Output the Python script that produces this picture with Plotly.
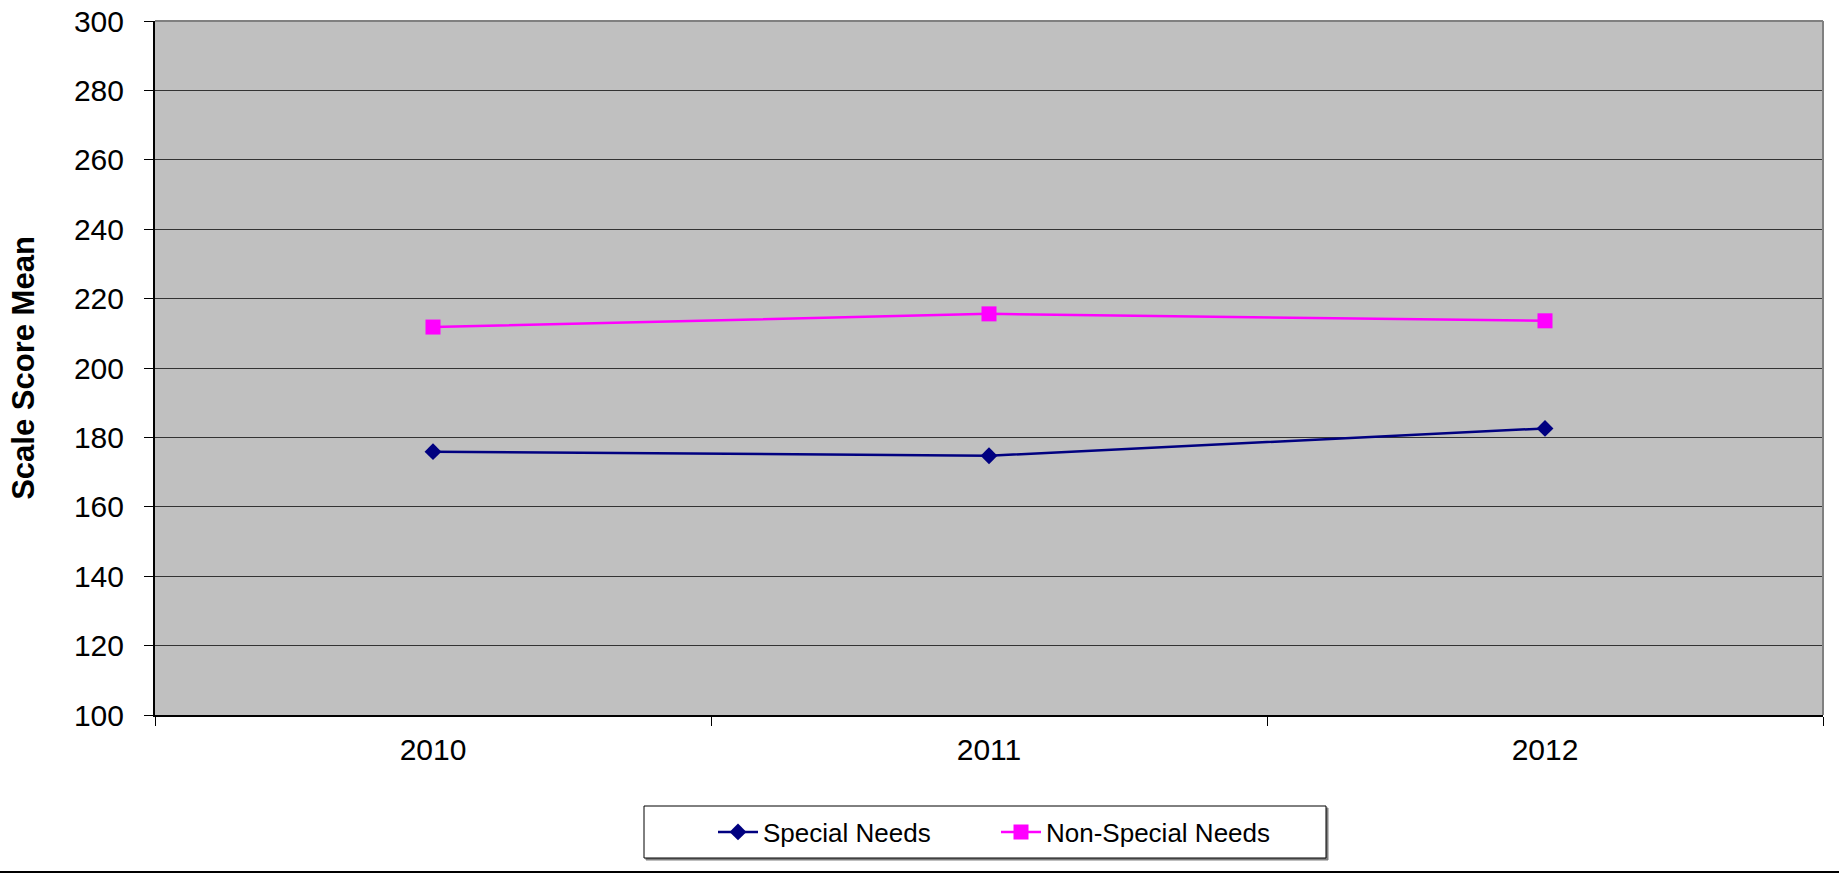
import plotly.graph_objects as go

years = ["2010", "2011", "2012"]
special_needs = [175.9, 174.7, 182.6]
non_special_needs = [211.8, 215.6, 213.6]
y_ticks = [100, 120, 140, 160, 180, 200, 220, 240, 260, 280, 300]

W, H = 1839, 873
L, R, T, B = 155, 16, 21, 158
pw, ph = W - L - R, H - T - B
y0px = T + ph  # pixel row of the x axis


def px_x(x):
    return (x - L) / pw


def px_y(y):
    return (y0px - y) / ph


fig = go.Figure()
fig.add_trace(go.Scatter(
    x=years, y=special_needs, name="Special Needs", mode="lines+markers",
    line=dict(color="#000080", width=2.5),
    marker=dict(symbol="diamond", size=13, color="#000080"),
))
fig.add_trace(go.Scatter(
    x=years, y=non_special_needs, name="Non-Special Needs", mode="lines+markers",
    line=dict(color="#FF00FF", width=2.5),
    marker=dict(symbol="square", size=15, color="#FF00FF"),
))

font_family = "Liberation Sans, Arial, sans-serif"

fig.update_layout(
    width=W, height=H,
    margin=dict(l=L, r=R, t=T, b=B, autoexpand=False),
    paper_bgcolor="white",
    plot_bgcolor="#C0C0C0",
    font=dict(family=font_family, color="black"),
    showlegend=True,
    legend=dict(
        orientation="h",
        xref="paper", yref="paper",
        x=px_x(713), xanchor="left",
        y=px_y(832), yanchor="middle",
        bgcolor="rgba(0,0,0,0)", borderwidth=0,
        font=dict(size=26, family=font_family),
        itemwidth=40,
        entrywidth=228,
    ),
    xaxis=dict(
        type="category",
        tickson="boundaries",
        ticks="outside", ticklen=9, tickcolor="black", tickwidth=1,
        showgrid=False,
        showline=True, linecolor="black", linewidth=2,
        tickfont=dict(size=30),
        ticklabelstandoff=7,
        range=[-0.5, 2.5],
        zeroline=False,
    ),
    yaxis=dict(
        range=[100, 300],
        tickvals=y_ticks,
        ticks="outside", ticklen=9, tickcolor="black", tickwidth=1,
        showgrid=True, gridcolor="#333333", gridwidth=1,
        showline=True, linecolor="black", linewidth=2,
        tickfont=dict(size=30),
        ticklabelstandoff=14,
        zeroline=False,
        title=dict(text="<b>Scale Score Mean</b>", font=dict(size=31), standoff=30),
    ),
    shapes=[
        # plot area border (top and right)
        dict(type="line", xref="paper", yref="paper", x0=0, x1=1, y0=1, y1=1,
             line=dict(color="#808080", width=2)),
        dict(type="line", xref="paper", yref="paper", x0=1, x1=1, y0=0, y1=1,
             line=dict(color="#808080", width=2)),
        # legend box shadow and frame
        dict(type="rect", xref="paper", yref="paper",
             x0=px_x(646), x1=px_x(1328), y0=px_y(808), y1=px_y(860),
             line=dict(color="#808080", width=1), fillcolor="#808080", layer="above"),
        dict(type="rect", xref="paper", yref="paper",
             x0=px_x(644), x1=px_x(1326), y0=px_y(806), y1=px_y(858),
             line=dict(color="black", width=1), fillcolor="white", layer="above"),
        # chart frame bottom line
        dict(type="line", xref="paper", yref="paper",
             x0=px_x(0), x1=px_x(W),
             y0=px_y(872), y1=px_y(872),
             line=dict(color="black", width=2)),
    ],
)

fig.write_html(
    "out.html",
    config={"displayModeBar": False},
    post_script="document.body.style.margin='0';document.body.style.overflow='hidden';",
)
